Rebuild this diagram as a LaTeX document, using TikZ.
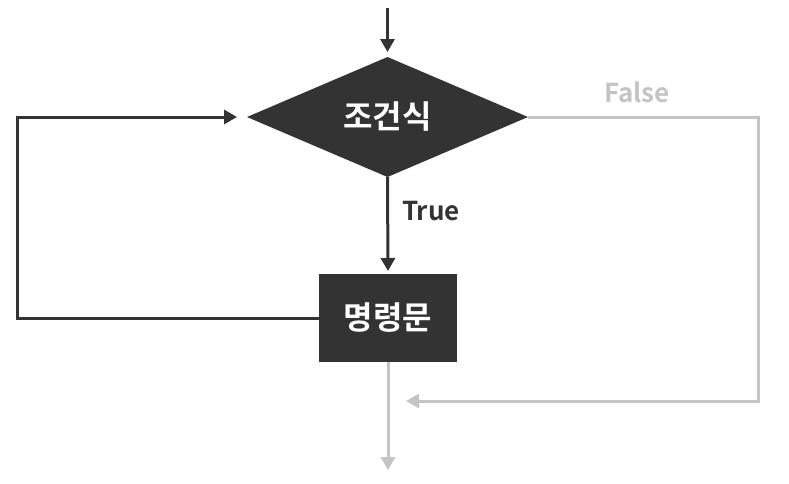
\documentclass[tikz,border=0pt]{standalone}
\usepackage{fontspec}
\setmainfont{Noto Sans CJK KR}[BoldFont={* Bold}]
\usepackage{tikz}
\usetikzlibrary{shapes.geometric,arrows.meta}
\definecolor{dark}{HTML}{333333}
\definecolor{light}{HTML}{C4C4C4}
\tikzset{
  cond/.style={diamond,fill=dark,text=white,inner sep=0pt,outer sep=0pt,
    minimum width=281pt,minimum height=120pt,font=\bfseries\fontsize{32}{32}\selectfont},
  stmtbox/.style={rectangle,fill=dark,text=white,inner sep=0pt,outer sep=0pt,
    minimum width=138pt,minimum height=88pt,font=\bfseries\fontsize{32}{32}\selectfont},
  arr/.style={draw=dark,line width=3pt,-{Triangle[length=13pt,width=14pt]}},
  garr/.style={draw=light,line width=3pt,-{Triangle[length=13pt,width=14pt]}},
  lbl/.style={font=\bfseries\fontsize{26}{26}\selectfont}
}
\begin{document}
\begin{tikzpicture}[x=1pt,y=-1pt]
            \useasboundingbox (0,0) rectangle (789,483);
            \node[cond] at (387.5,117) (c) {조건식};
            \node[stmtbox] at (388,318) (s) {명령문};
            \coordinate (top) at (387.5,8);
            \coordinate (lb) at (17,318);
            \coordinate (lt) at (17,117);
            \coordinate (rt) at (758,117);
            \coordinate (rb) at (758,401);
            \coordinate (back) at (406,401);
            \coordinate (out) at (388,470);
            \node[lbl,text=dark] at (431,211) (t) {True};
            \node[lbl,text=light] at (637,92) (f) {False};
            \draw[arr,shorten >=5pt] (top) to (c.north);
            \draw[arr,shorten >=3pt] (c.south) to (s.north);
            \draw[arr,shorten >=10pt] (s.west) -- (lb) -- (lt) -- (c.west);
            \draw[garr] (c.east) -- (rt) -- (rb) -- (back);
            \draw[garr] (s.south) to (out);
        \end{tikzpicture}
\end{document}
